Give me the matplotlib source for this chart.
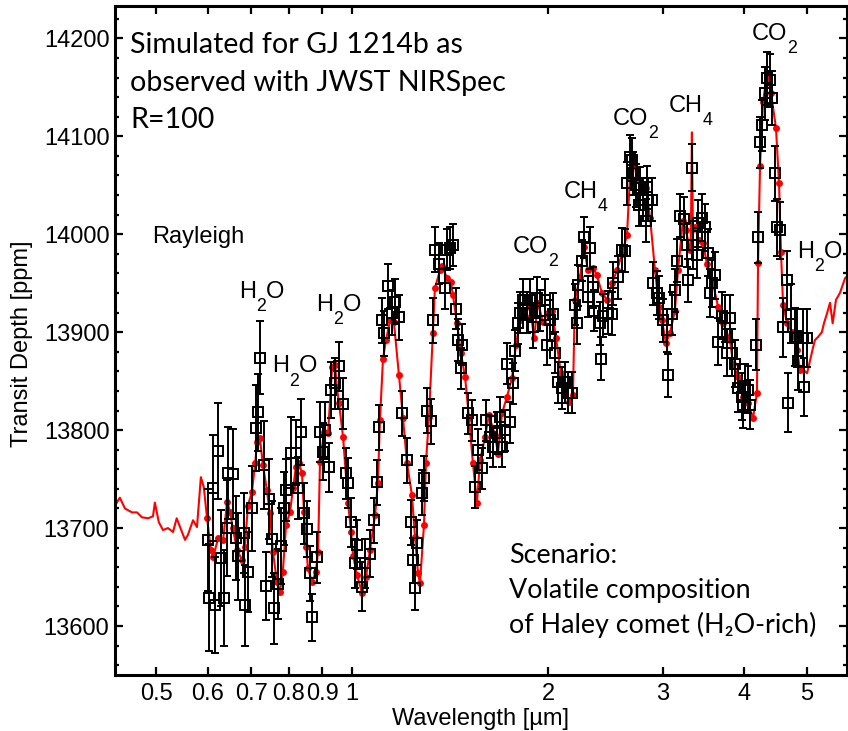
import matplotlib
matplotlib.use('Agg')
import matplotlib.pyplot as plt
import matplotlib.transforms as mtransforms
from matplotlib.ticker import FixedLocator, NullLocator, MultipleLocator

plt.rcParams['font.family'] = ['Liberation Sans', 'DejaVu Sans']

# model line, short-wavelength part (Rayleigh slope)
ray_wl = [0.4325, 0.440, 0.448, 0.4594, 0.4675, 0.4757, 0.4860, 0.4947, 0.498, 0.505,
          0.5125, 0.5217, 0.531, 0.538, 0.548, 0.554, 0.5597, 0.570, 0.578, 0.586, 0.592]
ray_depth = [13723, 13731, 13720, 13716, 13716, 13711, 13710, 13712, 13726, 13706,
             13698, 13700, 13696, 13710, 13696, 13688, 13693, 13708, 13701, 13752, 13742]

# binned model (red dots)
dot_wl = [0.599, 0.607, 0.612, 0.623, 0.634, 0.643, 0.650, 0.656, 0.666, 0.678,
          0.685, 0.692, 0.702, 0.710, 0.715, 0.722, 0.730, 0.740, 0.748, 0.756,
          0.767, 0.775, 0.783, 0.792, 0.803, 0.812, 0.820, 0.829, 0.838, 0.844,
          0.850, 0.856, 0.868, 0.880, 0.887, 0.893, 0.906, 0.919, 0.932, 0.942,
          0.948, 0.955, 0.969, 0.986, 0.997, 1.004, 1.018, 1.036, 1.051, 1.066,
          1.085, 1.096, 1.104, 1.116, 1.128, 1.144, 1.160, 1.181, 1.198, 1.215,
          1.236, 1.250, 1.263, 1.272, 1.290, 1.299, 1.313, 1.331, 1.341, 1.365,
          1.375, 1.400, 1.419, 1.429, 1.450, 1.470, 1.492, 1.513, 1.534, 1.556,
          1.573, 1.601, 1.623, 1.659, 1.676, 1.700, 1.730, 1.761, 1.786, 1.812,
          1.844, 1.877, 1.904, 1.931, 1.966, 2.001, 2.029, 2.058, 2.094, 2.124,
          2.154, 2.185, 2.200, 2.240, 2.272, 2.304, 2.346, 2.378, 2.421, 2.465,
          2.508, 2.553, 2.598, 2.645, 2.673, 2.702, 2.741, 2.789, 2.829, 2.870,
          2.921, 2.962, 2.993, 3.036, 3.079, 3.134, 3.168, 3.224, 3.259, 3.305,
          3.365, 3.412, 3.461, 3.510, 3.586, 3.650, 3.716, 3.808, 3.849, 3.917,
          3.987, 4.058, 4.130, 4.189, 4.205, 4.235, 4.280, 4.341, 4.403, 4.481,
          4.529, 4.561, 4.594, 4.660, 4.743, 4.828, 4.878]
dot_depth = [13710, 13678, 13670, 13690, 13688, 13727, 13716, 13700, 13678, 13667,
             13681, 13723, 13737, 13766, 13788, 13792, 13764, 13739, 13715, 13676,
             13645, 13635, 13655, 13703, 13716, 13741, 13762, 13766, 13756, 13716,
             13681, 13659, 13645, 13655, 13676, 13767, 13798, 13797, 13864, 13866,
             13844, 13828, 13793, 13726, 13696, 13672, 13652, 13634, 13650, 13678,
             13713, 13746, 13810, 13873, 13892, 13912, 13910, 13856, 13812, 13766,
             13734, 13691, 13654, 13644, 13703, 13766, 13813, 13899, 13945, 13963,
             13968, 13955, 13951, 13938, 13909, 13879, 13854, 13812, 13766, 13726,
             13769, 13793, 13815, 13795, 13776, 13817, 13834, 13853, 13887, 13912,
             13917, 13928, 13894, 13930, 13910, 13920, 13922, 13894, 13858, 13844,
             13829, 13836, 13933, 13956, 13987, 13963, 13966, 13958, 13940, 13933,
             13950, 13963, 13980, 13999, 14058, 14078, 14057, 14050, 14047, 14017,
             13963, 13926, 13912, 13889, 13899, 13922, 13963, 14014, 14004, 13984,
             14007, 13994, 13991, 13970, 13950, 13926, 13909, 13892, 13868, 13854,
             13834, 13828, 13812, 13838, 13971, 14070, 14135, 14164, 14144, 14108,
             14052, 13982, 13928, 13909, 13900, 13882, 13861]

# narrow CH4 line in the high resolution model
spike_wl = [3.315, 3.328, 3.340]
spike_depth = [13990, 14104, 14000]

# model line beyond the last bin
tail_wl = [4.930, 5.001, 5.053, 5.107, 5.143, 5.198, 5.270, 5.309, 5.366, 5.424,
           5.475, 5.540, 5.618, 5.720, 5.780]
tail_depth = [13862, 13858, 13871, 13884, 13892, 13895, 13900, 13909, 13919, 13930,
              13909, 13933, 13940, 13955, 13958]

# simulated NIRSpec observation
obs_wl = [0.601, 0.603, 0.612, 0.616, 0.623, 0.629, 0.636, 0.643, 0.645, 0.656,
          0.664, 0.668, 0.682, 0.685, 0.692, 0.702, 0.712, 0.718, 0.722, 0.732,
          0.738, 0.746, 0.754, 0.759, 0.770, 0.778, 0.786, 0.792, 0.806, 0.820,
          0.826, 0.835, 0.844, 0.853, 0.862, 0.868, 0.884, 0.893, 0.903, 0.909,
          0.922, 0.928, 0.942, 0.955, 0.969, 0.979, 0.986, 0.997, 1.011, 1.018,
          1.036, 1.047, 1.066, 1.081, 1.092, 1.100, 1.112, 1.120, 1.136, 1.152,
          1.164, 1.181, 1.193, 1.215, 1.232, 1.241, 1.250, 1.259, 1.281, 1.290,
          1.304, 1.323, 1.331, 1.341, 1.360, 1.390, 1.400, 1.414, 1.429, 1.444,
          1.455, 1.470, 1.476, 1.507, 1.529, 1.545, 1.562, 1.584, 1.607, 1.629,
          1.647, 1.670, 1.688, 1.700, 1.718, 1.730, 1.749, 1.767, 1.780, 1.799,
          1.812, 1.831, 1.857, 1.877, 1.897, 1.924, 1.945, 1.979, 1.993, 2.014,
          2.036, 2.050, 2.072, 2.102, 2.124, 2.147, 2.177, 2.200, 2.216, 2.224,
          2.256, 2.272, 2.304, 2.321, 2.346, 2.354, 2.404, 2.413, 2.430, 2.473,
          2.508, 2.517, 2.562, 2.598, 2.626, 2.645, 2.673, 2.692, 2.702, 2.731,
          2.760, 2.770, 2.799, 2.829, 2.839, 2.849, 2.890, 2.900, 2.941, 2.962,
          3.004, 3.047, 3.058, 3.101, 3.134, 3.156, 3.190, 3.236, 3.270, 3.281,
          3.328, 3.340, 3.388, 3.400, 3.449, 3.485, 3.523, 3.548, 3.573, 3.611,
          3.650, 3.702, 3.741, 3.767, 3.808, 3.835, 3.876, 3.917, 3.973, 3.987,
          4.016, 4.058, 4.087, 4.175, 4.205, 4.235, 4.265, 4.310, 4.341, 4.387,
          4.419, 4.466, 4.497, 4.546, 4.594, 4.660, 4.676, 4.726, 4.794, 4.828,
          4.844, 4.931, 4.948, 5.001]
obs_depth = [13688, 13629, 13741, 13621, 13779, 13669, 13629, 13700, 13756, 13755,
             13690, 13671, 13695, 13621, 13655, 13720, 13802, 13818, 13874, 13764,
             13641, 13730, 13689, 13618, 13643, 13682, 13720, 13739, 13777, 13777,
             13741, 13798, 13715, 13699, 13654, 13609, 13670, 13798, 13778, 13800,
             13762, 13841, 13848, 13865, 13827, 13756, 13746, 13706, 13664, 13683,
             13640, 13664, 13674, 13708, 13747, 13803, 13912, 13899, 13947, 13920,
             13931, 13915, 13817, 13769, 13706, 13667, 13639, 13685, 13736, 13751,
             13820, 13809, 13912, 13984, 13970, 13945, 13984, 13986, 13989, 13924,
             13892, 13863, 13887, 13817, 13810, 13742, 13780, 13761, 13810, 13793,
             13783, 13797, 13813, 13783, 13800, 13868, 13808, 13848, 13881, 13909,
             13920, 13933, 13920, 13933, 13905, 13935, 13922, 13933, 13887, 13912,
             13919, 13879, 13849, 13843, 13849, 13838, 13838, 13928, 13909, 13948,
             13973, 13997, 13936, 13986, 13946, 13922, 13909, 13873, 13917, 13920,
             13919, 13950, 13956, 13984, 13983, 14052, 14079, 14076, 14062, 14050,
             14030, 14047, 14035, 14014, 14048, 14035, 14035, 13950, 13940, 13935,
             13912, 13902, 13856, 13919, 13943, 13973, 14019, 14016, 13989, 13953,
             14068, 13989, 13979, 14011, 14017, 14007, 13981, 13940, 13950, 13958,
             13890, 13917, 13914, 13879, 13914, 13879, 13868, 13843, 13834, 13826,
             13843, 13841, 13826, 13887, 13997, 14094, 14111, 14144, 14159, 14157,
             14139, 14062, 14007, 14004, 13905, 13953, 13828, 13919, 13895, 13894,
             13871, 13894, 13844, 13894]
obs_err = [52, 55, 54, 49, 49, 49, 49, 49, 47, 46,
           43, 44, 41, 41, 41, 43, 44, 39, 37, 45,
           35, 41, 39, 36, 36, 39, 37, 32, 36, 33,
           32, 34, 31, 29, 28, 24, 26, 31, 29, 29,
           25, 29, 26, 25, 26, 26, 26, 25, 25, 25,
           25, 25, 24, 23, 23, 23, 23, 23, 23, 23,
           23, 23, 23, 23, 23, 23, 23, 23, 23, 23,
           23, 23, 23, 23, 21, 21, 21, 21, 21, 21,
           21, 21, 21, 21, 21, 21, 21, 21, 21, 21,
           21, 21, 21, 21, 21, 21, 21, 21, 21, 21,
           21, 21, 21, 21, 21, 21, 21, 21, 21, 21,
           21, 21, 21, 21, 21, 21, 21, 21, 21, 21,
           21, 21, 21, 21, 21, 21, 22, 22, 22, 22,
           22, 22, 22, 22, 22, 22, 22, 22, 22, 22,
           22, 22, 22, 22, 22, 22, 22, 22, 22, 22,
           22, 22, 22, 22, 22, 22, 22, 22, 22, 22,
           24, 24, 24, 24, 24, 24, 24, 24, 24, 24,
           24, 24, 24, 24, 24, 24, 24, 24, 24, 24,
           24, 24, 25, 26, 26, 26, 26, 27, 27, 27,
           28, 28, 29, 29, 30, 30, 30, 30, 30, 30,
           30, 30, 30, 30]

xtick_vals = [0.5, 0.6, 0.7, 0.8, 0.9, 1, 2, 3, 4, 5]
xtick_labels = ['0.5', '0.6', '0.7', '0.8', '0.9', '1', '2', '3', '4', '5']

# molecule labels: (pieces, wavelength, depth, alignment); second item of a piece = subscript
mol_labels = [
    ([('H', 0), ('2', 1), ('O', 0)], 0.726, 13935, 'center'),
    ([('H', 0), ('2', 1), ('O', 0)], 0.817, 13859, 'center'),
    ([('H', 0), ('2', 1), ('O', 0)], 0.955, 13922, 'center'),
    ([('CO', 0), ('2', 1)], 1.910, 13981, 'center'),
    ([('CH', 0), ('4', 1)], 2.288, 14037, 'center'),
    ([('CO', 0), ('2', 1)], 2.721, 14112, 'center'),
    ([('CH', 0), ('4', 1)], 3.317, 14125, 'center'),
    ([('CO', 0), ('2', 1)], 4.448, 14198, 'center'),
    ([('H', 0), ('2', 1), ('O', 0)], 4.827, 13976, 'left'),
]

W, H = 848, 731
fig = plt.figure(figsize=(W / 100, H / 100), dpi=100)
ax = fig.add_axes([115 / W, 1 - 675 / H, (847 - 115) / W, (675 - 6) / H])

line = sorted(zip(ray_wl + dot_wl + spike_wl + tail_wl,
                  ray_depth + dot_depth + spike_depth + tail_depth))
ax.plot([p[0] for p in line], [p[1] for p in line], color='red', lw=1.5, zorder=2)
ax.plot(dot_wl, dot_depth, 'o', color='red', ms=5, mec='none', zorder=3)
ax.errorbar(obs_wl, obs_depth, yerr=obs_err, fmt='s', mfc='none', mec='black',
            ms=7.4, mew=1.4, ecolor='black', elinewidth=1.4, capsize=3,
            capthick=1.4, zorder=4)

ax.set_xscale('log')
ax.set_xlim(0.4325, 5.76)
ax.set_ylim(13550, 14233)
ax.xaxis.set_major_locator(FixedLocator(xtick_vals))
ax.xaxis.set_minor_locator(NullLocator())
ax.set_xticklabels(xtick_labels)
ax.yaxis.set_major_locator(MultipleLocator(100))
ax.yaxis.set_minor_locator(MultipleLocator(20))

for s in ax.spines.values():
    s.set_linewidth(2.2)
ax.tick_params(which='both', direction='in', top=True, right=True, labelsize=17, width=1.6)
ax.tick_params(which='major', length=6)
ax.tick_params(which='minor', length=3)
ax.tick_params(axis='x', pad=6)
ax.tick_params(axis='y', pad=4)

ax.set_xlabel('Wavelength [µm]', fontsize=17, labelpad=2)
ax.set_ylabel('Transit Depth [ppm]', fontsize=17)
ax.yaxis.set_label_coords(-0.112, 0.495)

renderer = fig.canvas.get_renderer()


def chem_label(pieces, x, y, ha, size=17):
    # main letters and lowered subscripts drawn piece by piece
    texts, widths = [], []
    for s, sub in pieces:
        t = ax.text(x, y, s, fontsize=size * (0.75 if sub else 1), va='baseline',
                    ha='left', clip_on=False)
        texts.append(t)
        widths.append(t.get_window_extent(renderer).width)
    total = sum(widths)
    dx = -total / 2 if ha == 'center' else 0
    for (s, sub), t, w in zip(pieces, texts, widths):
        t.set_transform(mtransforms.offset_copy(ax.transData, fig=fig, x=dx * 0.72,
                                                y=-9.5 if sub else 0, units='points'))
        dx += w


for pieces, wl, d, ha in mol_labels:
    chem_label(pieces, wl, d, ha)
ax.text(0.493, 13997, 'Rayleigh', fontsize=17, ha='left', va='center')

calibri = ['Lato', 'DejaVu Sans']
top_lines = ['Simulated for GJ 1214b as', 'observed with JWST NIRSpec', 'R=100']
for i, t in enumerate(top_lines):
    fig.text(130 / W, 1 - (53 + 37.5 * i) / H, t, family=calibri, fontsize=20.6, va='baseline')
scen_lines = ['Scenario:', 'Volatile composition', 'of Haley comet (H₂O-rich)']
for i, t in enumerate(scen_lines):
    fig.text(509 / W, 1 - (563 + 35 * i) / H, t, family=calibri, fontsize=19.4, va='baseline')

fig.savefig('out.png', dpi=100)
